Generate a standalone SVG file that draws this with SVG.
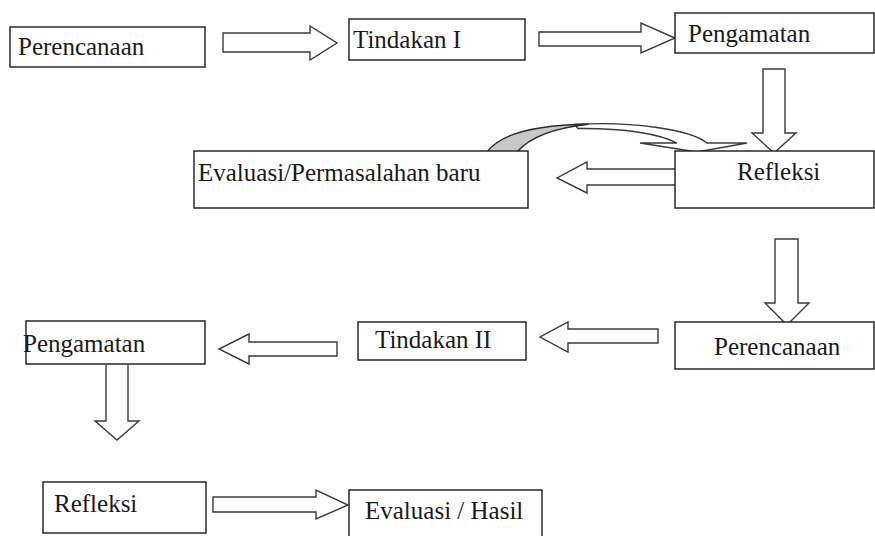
<svg xmlns="http://www.w3.org/2000/svg" width="875" height="536" viewBox="0 0 875 536">
<style>
.box{fill:#fff;stroke:#1a1a1a;stroke-width:1.4}
.arr{fill:#fff;stroke:#3a3a3a;stroke-width:1.4;stroke-linejoin:miter}
.t{font-family:"Liberation Serif","Times New Roman",serif;font-size:25px;fill:#1a1a1a}
</style>
<rect width="875" height="536" fill="#fff"/>
<g id="connectors">
<path class="arr" d="M223,33 H310 V26 L337,43 L310,60 V52 H223 Z"/>
<path class="arr" d="M539,32 H641 V23 L675,38 L641,53 V46 H539 Z"/>
<path class="arr" d="M763,69 V133 H752 L774,153 L796,133 H785 V69 Z"/>
<path class="arr" d="M676,169 H587 V162 L557,178 L587,193 V185 H676"/>
<path class="arr" d="M775,239 V303 H765 L787,325 L809,303 H798 V239 Z"/>
<path class="arr" d="M658,329 H568 V322 L540,337 L568,352 V343 H658 Z"/>
<path class="arr" d="M337,342 H249 V334 L219,349 L249,364 V356 H337 Z"/>
<path class="arr" d="M106,365 V421 H95 L117,440 L139,421 H128 V365"/>
<path class="arr" d="M213,497 H316 V490 L348,505 L316,519 V512 H213 Z"/>
<g id="curved-arrow">
<path class="arr" d="M575,124.5 C630,121 690,129 707,143 H747 L697,152 L640,143 H677 C660,134 625,128 578,128.5 Z"/>
<path d="M487,152 C500,134 535,125 588,124.3 C555,128 530,137 517,152 Z" fill="#c8c8c8" stroke="#2a2a2a" stroke-width="1.4" stroke-linejoin="round"/>
</g>
</g>
<g id="n1"><rect class="box" x="10" y="27" width="195" height="40"/><text class="t" x="18" y="55">Perencanaan</text></g>
<g id="n2"><rect class="box" x="349" y="19" width="176" height="41"/><text class="t" x="353" y="48">Tindakan I</text></g>
<g id="n3"><rect class="box" x="675" y="13" width="199" height="40"/><text class="t" x="688" y="42">Pengamatan</text></g>
<g id="n4"><rect class="box" x="194" y="151" width="334" height="57"/><text class="t" x="198" y="181">Evaluasi/Permasalahan baru</text></g>
<g id="n5"><rect class="box" x="675" y="151" width="199" height="57"/><text class="t" x="737" y="180">Refleksi</text></g>
<g id="n6"><rect class="box" x="675" y="322" width="199" height="47"/><text class="t" x="714" y="355">Perencanaan</text></g>
<g id="n7"><rect class="box" x="358" y="322" width="168" height="38"/><text class="t" x="375" y="348">Tindakan II</text></g>
<g id="n8"><rect class="box" x="26" y="321" width="179" height="43"/><text class="t" x="23" y="352">Pengamatan</text></g>
<g id="n9"><rect class="box" x="43" y="482" width="163" height="51"/><text class="t" x="54" y="512">Refleksi</text></g>
<g id="n10"><rect class="box" x="349" y="490" width="193" height="60"/><text class="t" x="365" y="519">Evaluasi / Hasil</text></g>
</svg>
